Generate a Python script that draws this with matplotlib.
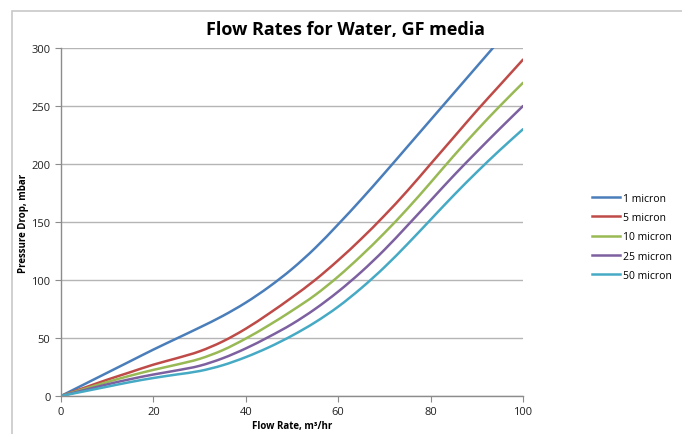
import numpy as np
import matplotlib.pyplot as plt
from matplotlib.patches import Rectangle, PathPatch
from matplotlib.path import Path
from matplotlib.lines import Line2D

# Caudal (m3/hr) y caida de presion (mbar)
flow = [0, 5, 10, 15, 20, 25, 30, 35, 40, 45, 50, 55, 60, 65, 70, 75, 80, 85, 90, 95, 100]
p_1 = [0, 10, 20, 30, 40, 49.5, 59, 69, 80.5, 94, 109.5, 127.5, 148, 169.5, 192, 215, 238, 261, 284, 307, 330]
p_5 = [0, 7, 14, 20.5, 27, 32.5, 38.5, 47, 58, 71, 85, 100, 117, 135.5, 155.5, 177, 200, 223, 246, 268, 290]
p_10 = [0, 6, 12, 17.5, 22.5, 27, 32, 39.5, 49.5, 61, 73.5, 87, 103, 121, 140.5, 161.5, 184, 207, 229, 250, 270]
p_25 = [0, 5, 10, 14.5, 18.5, 22, 26, 32.5, 41, 51, 62, 75, 90, 107, 126, 147, 168.5, 190, 210.5, 230.5, 250]
p_50 = [0, 4, 8, 12, 15.5, 18.5, 21.5, 26.5, 33.5, 42, 52, 63.5, 77, 93, 111, 131, 152, 173, 193, 212, 230]

series = [('1 micron', p_1, '#4A7EBB'),
          ('5 micron', p_5, '#BE4B48'),
          ('10 micron', p_10, '#98B954'),
          ('25 micron', p_25, '#7D60A0'),
          ('50 micron', p_50, '#46AAC5')]


def smooth_path(x, y):
    # linea suavizada tipo Excel (Bezier Catmull-Rom entre los puntos)
    x = np.asarray(x, float)
    y = np.asarray(y, float)
    verts = [(x[0], y[0])]
    codes = [Path.MOVETO]
    n = len(x)
    for i in range(n - 1):
        i0, i3 = max(i - 1, 0), min(i + 2, n - 1)
        c1 = (x[i] + (x[i + 1] - x[i0]) / 6, y[i] + (y[i + 1] - y[i0]) / 6)
        c2 = (x[i + 1] - (x[i3] - x[i]) / 6, y[i + 1] - (y[i3] - y[i]) / 6)
        verts += [c1, c2, (x[i + 1], y[i + 1])]
        codes += [Path.CURVE4] * 3
    return Path(verts, codes)


plt.rcParams['font.family'] = ['Open Sans', 'DejaVu Sans']

fig = plt.figure(figsize=(6.82, 4.35), dpi=100)
ax = fig.add_axes([0.0894, 0.0874, 0.6775, 0.8000])

handles = []
for name, vals, col in series:
    ax.add_patch(PathPatch(smooth_path(flow, vals), fill=False, edgecolor=col, lw=1.8,
                           capstyle='round', joinstyle='round'))
    handles.append(Line2D([], [], color=col, lw=1.8, label=name))

ax.set_xlim(0, 100)
ax.set_ylim(0, 300)
ax.set_xticks(np.arange(0, 101, 20))
ax.set_yticks(np.arange(0, 301, 50))
ax.grid(axis='y', color='#B5B5B5', lw=1)
ax.set_axisbelow(True)
for s in ['top', 'right']:
    ax.spines[s].set_visible(False)
for s in ['left', 'bottom']:
    ax.spines[s].set_color('#8C8C8C')
    ax.spines[s].set_linewidth(1)
ax.tick_params(axis='both', colors='#8C8C8C', labelcolor='#222222', labelsize=8,
               length=4, direction='out')

ax.set_xlabel('Flow Rate, m³/hr', fontsize=7, fontweight='bold', labelpad=2)
ax.set_ylabel('Pressure Drop, mbar', fontsize=7, fontweight='bold', labelpad=2)
fig.text(0.506, 0.93, 'Flow Rates for Water, GF media', ha='center', va='center',
         fontsize=13, fontweight='bold')

ax.legend(handles=handles, loc='center left', bbox_to_anchor=(1.13, 0.457), frameon=False,
          fontsize=7.5, handlelength=2.6, handletextpad=0.3, labelspacing=0.8)

# marco del grafico
fig.patches.append(Rectangle((0.018, -0.01), 1.2, 0.983, transform=fig.transFigure,
                             fill=False, edgecolor='#C8C8C8', lw=1.2))

fig.savefig('out.png', dpi=100)
